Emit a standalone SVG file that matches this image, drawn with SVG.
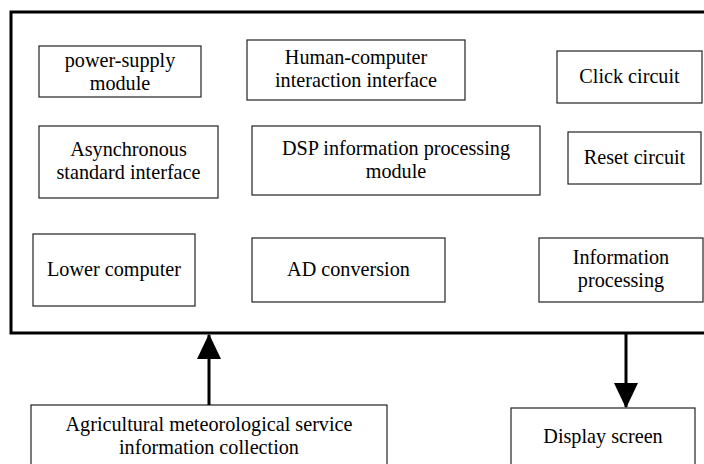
<svg xmlns="http://www.w3.org/2000/svg" width="704" height="464" viewBox="0 0 704 464">
<defs>
<style>
.box{fill:#fff;stroke:#222;stroke-width:1.2}
.frame{fill:none;stroke:#000;stroke-width:3}
text{font-family:"Liberation Serif","Times New Roman",serif;font-size:20.2px;fill:#000;text-anchor:middle}
.conn{stroke:#000;stroke-width:3;fill:none}
</style>
<marker id="ah" markerWidth="8.4" markerHeight="8" refX="8" refY="4" orient="auto" markerUnits="strokeWidth" viewBox="0 0 8.4 8">
<path d="M0,0 L8.4,4 L0,8 Z" fill="#000"/>
</marker>
</defs>
<rect width="704" height="464" fill="#fff"/>
<g id="system">
<rect class="frame" x="11" y="12" width="697" height="321"/>
</g>
<g id="power-supply"><rect class="box" x="39" y="46" width="162" height="51"/><text x="120" y="67">power-supply</text><text x="120" y="90">module</text></g>
<g id="hci"><rect class="box" x="247" y="40" width="218" height="60"/><text x="356" y="64">Human-computer</text><text x="356" y="87">interaction interface</text></g>
<g id="click"><rect class="box" x="557" y="51" width="145" height="52"/><text x="629.5" y="83">Click circuit</text></g>
<g id="async"><rect class="box" x="39" y="126" width="179" height="72"/><text x="128.5" y="156">Asynchronous</text><text x="128.5" y="179">standard interface</text></g>
<g id="dsp"><rect class="box" x="252" y="126" width="288" height="69"/><text x="396" y="155">DSP information processing</text><text x="396" y="178">module</text></g>
<g id="reset"><rect class="box" x="568" y="132" width="133" height="52"/><text x="634.5" y="164">Reset circuit</text></g>
<g id="lower"><rect class="box" x="33" y="234" width="162" height="72"/><text x="114" y="276">Lower computer</text></g>
<g id="ad"><rect class="box" x="252" y="238" width="193" height="64"/><text x="348.5" y="276">AD conversion</text></g>
<g id="infoproc"><rect class="box" x="539" y="238" width="164" height="64"/><text x="621" y="264">Information</text><text x="621" y="287">processing</text></g>
<g id="agri"><rect class="box" x="31" y="405" width="356" height="70"/><text x="209" y="431">Agricultural meteorological service</text><text x="209" y="454">information collection</text></g>
<g id="display"><rect class="box" x="511" y="408" width="184" height="70"/><text x="603" y="443">Display screen</text></g>
<g id="connectors">
<line class="conn" x1="209" y1="405" x2="209" y2="335" marker-end="url(#ah)"/>
<line class="conn" x1="626" y1="334" x2="626" y2="407" marker-end="url(#ah)"/>
</g>
</svg>
